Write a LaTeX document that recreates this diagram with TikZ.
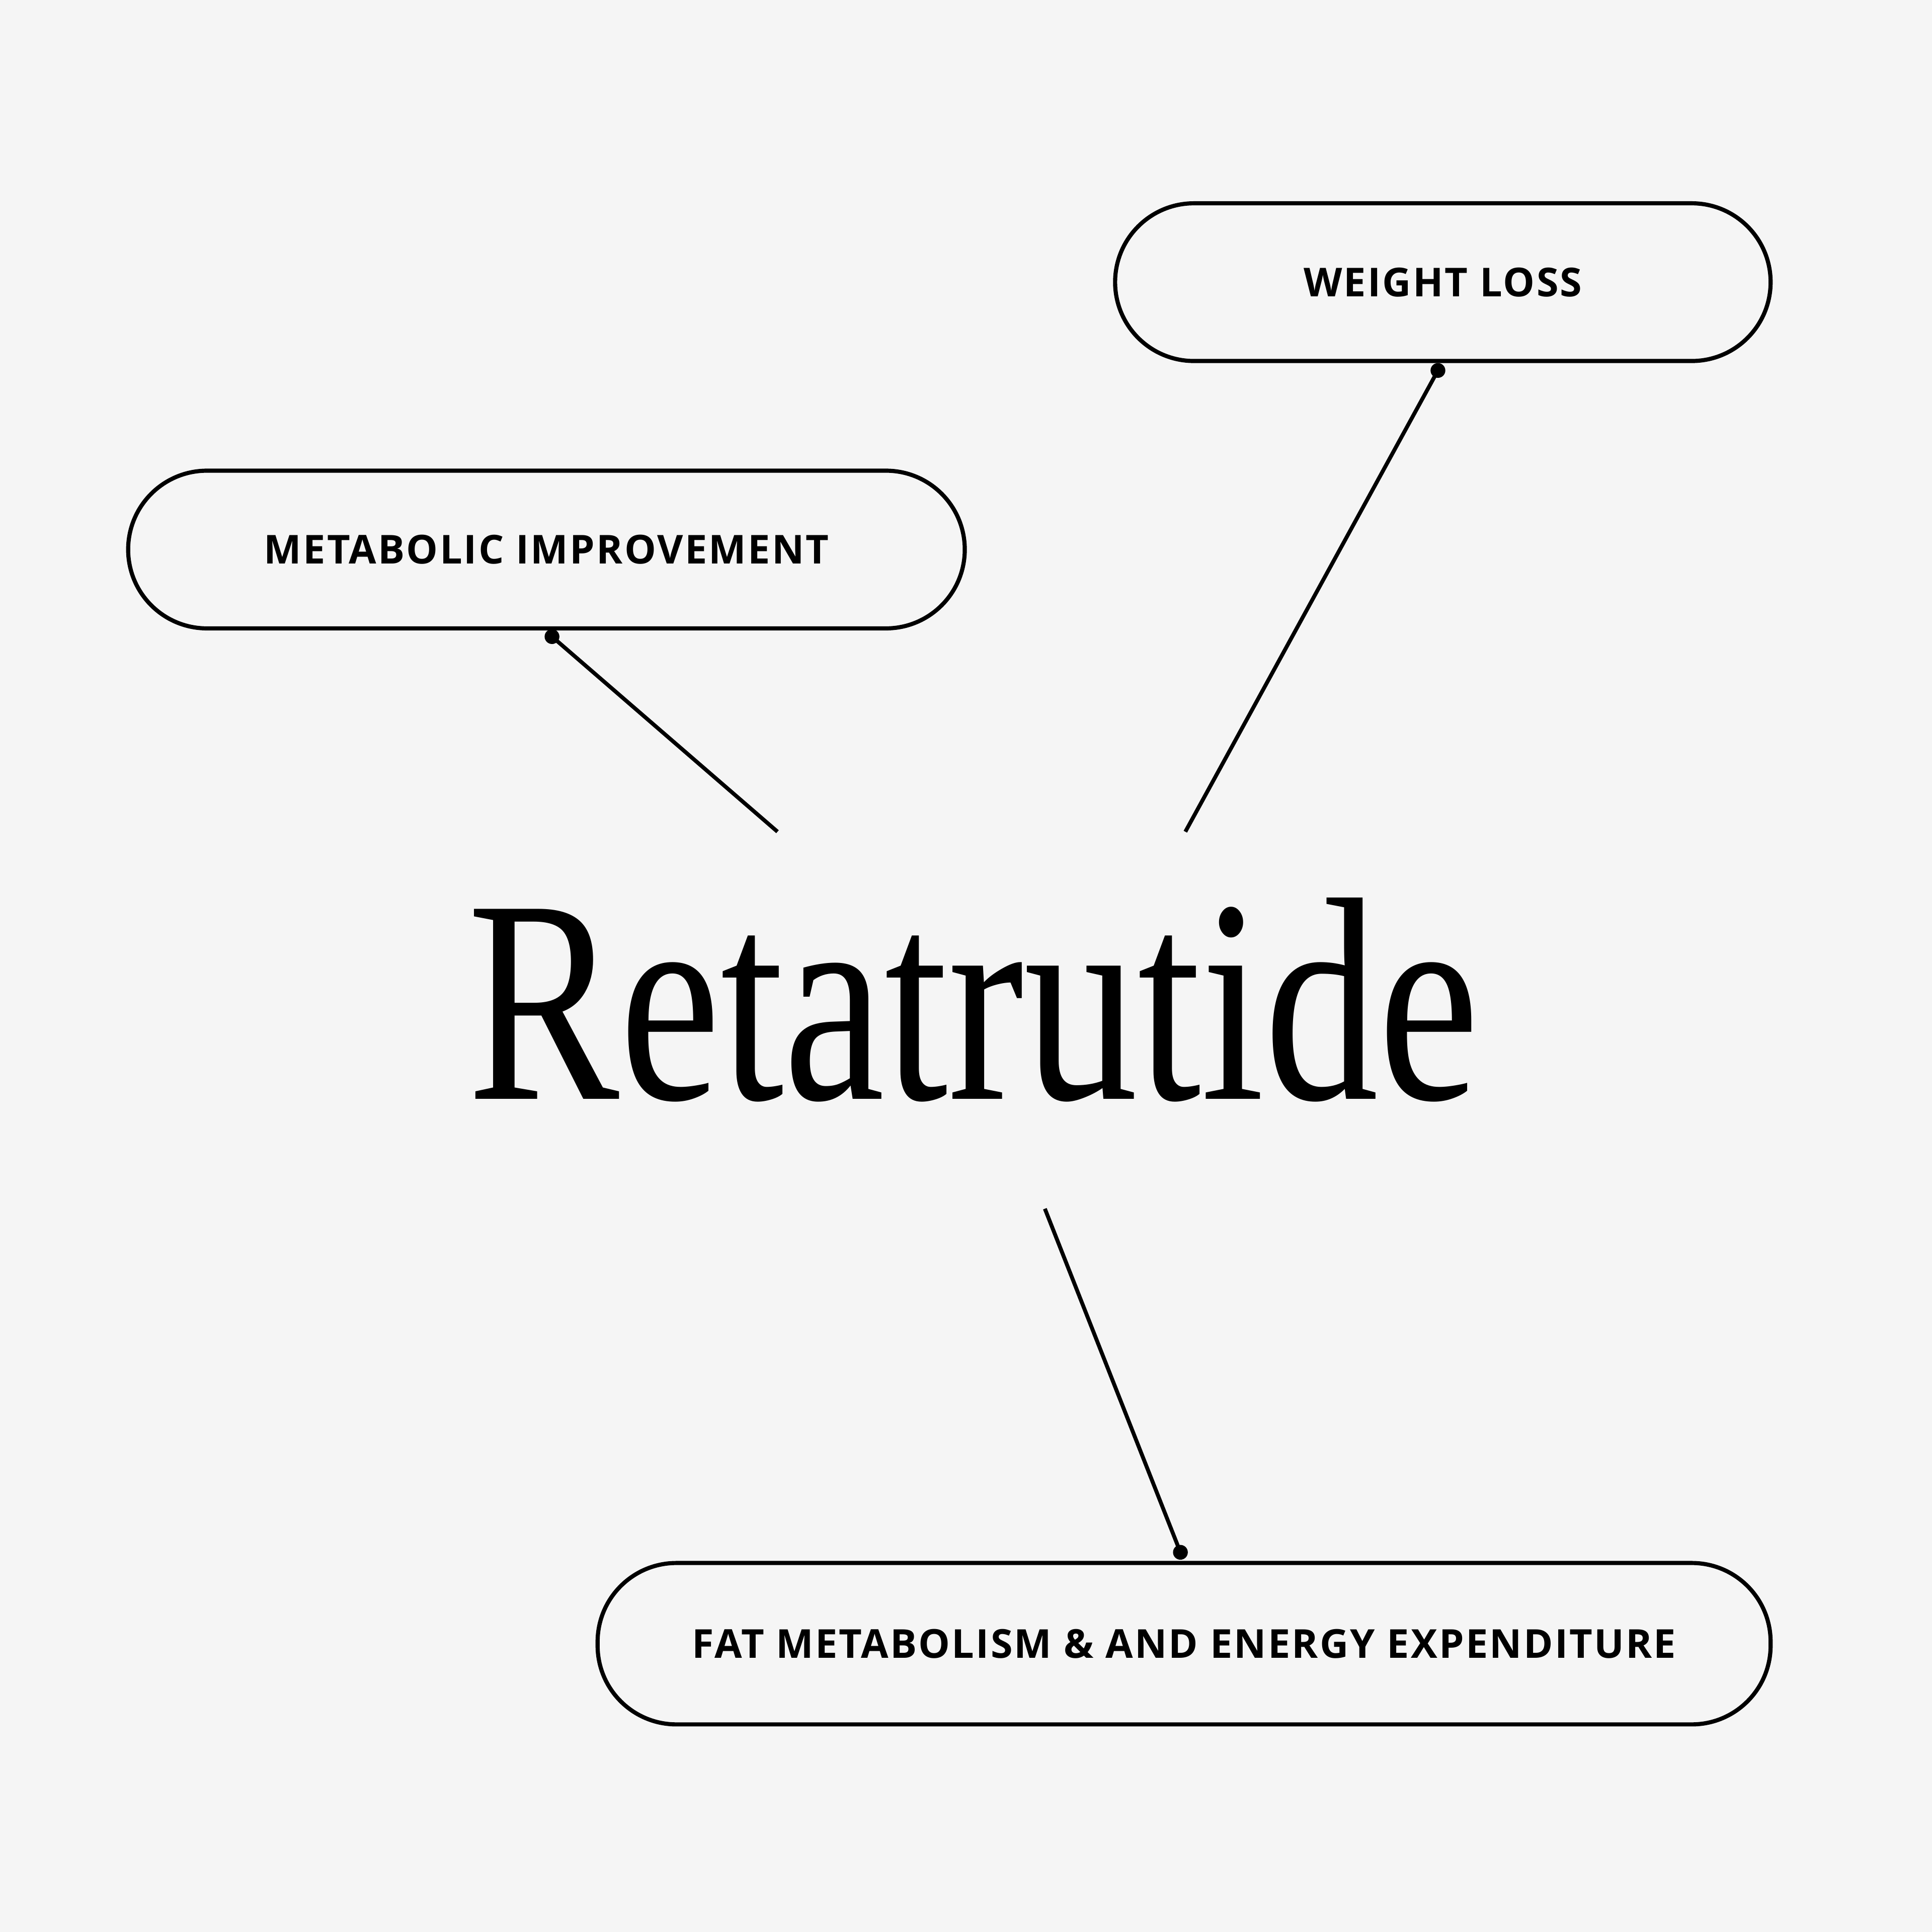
\documentclass[tikz,border=0pt]{standalone}
\usepackage{fontspec}
\usepackage{xcolor}
\setmainfont{Liberation Serif}
\newfontfamily\labelfont[LetterSpace=4]{Open Sans}
\definecolor{paperGrey}{RGB}{245, 245, 245}
\definecolor{inkBlack}{RGB}{0, 0, 0}

\begin{document}
\begin{tikzpicture}
            % Styles
            \tikzstyle{pill} = [rectangle, draw=inkBlack, fill=paperGrey, line width=0.95pt, minimum height=1.28cm, rounded corners=6.4mm, font=\labelfont\bfseries\fontsize{9.2}{11}\selectfont]
            \tikzstyle{dot} = [circle, fill=inkBlack, minimum size=1.2mm, inner sep=0pt]
            \tikzstyle{link} = [draw=inkBlack, line width=0.9pt]
            
            % Background
            \fill[paperGrey] (0, 0) rectangle (15.68, -15.68);
            \useasboundingbox (0, 0) rectangle (15.68, -15.68);
            
            % Title
            \node[anchor=base, inner sep=0pt] (title) at (7.90, -8.92) {\scalebox{0.785}[1]{\fontsize{67}{70}\selectfont Retatrutide}};
            
            % Boxes
            \node[pill, minimum width=5.32cm] (wl) at (11.71, -2.29) {WEIGHT LOSS};
            \node[pill, minimum width=6.79cm] (mi) at (4.435, -4.46) {METABOLIC IMPROVEMENT};
            \node[pill, minimum width=9.52cm, minimum height=1.31cm] (fm) at (9.61, -13.34) {FAT METABOLISM \& AND ENERGY EXPENDITURE};
            
            % Dots
            \node[dot] (wl-d) at ([xshift=-0.4mm, yshift=-0.6mm]wl.south) {};
            \node[dot] (mi-d) at ([xshift=0.45mm, yshift=-0.5mm]mi.south) {};
            \node[dot] (fm-d) at ([xshift=-0.3mm, yshift=0.7mm]fm.north) {};
            
            % Free ends near the title
            \coordinate (wl-e) at (9.62, -6.75);
            \coordinate (mi-e) at (6.31, -6.75);
            \coordinate (fm-e) at (8.48, -9.81);
            
            % Links
            \draw[link] (wl-d.center) -- (wl-e);
            \draw[link] (mi-d.center) -- (mi-e);
            \draw[link] (fm-e) -- (fm-d.center);
        \end{tikzpicture}
\end{document}
